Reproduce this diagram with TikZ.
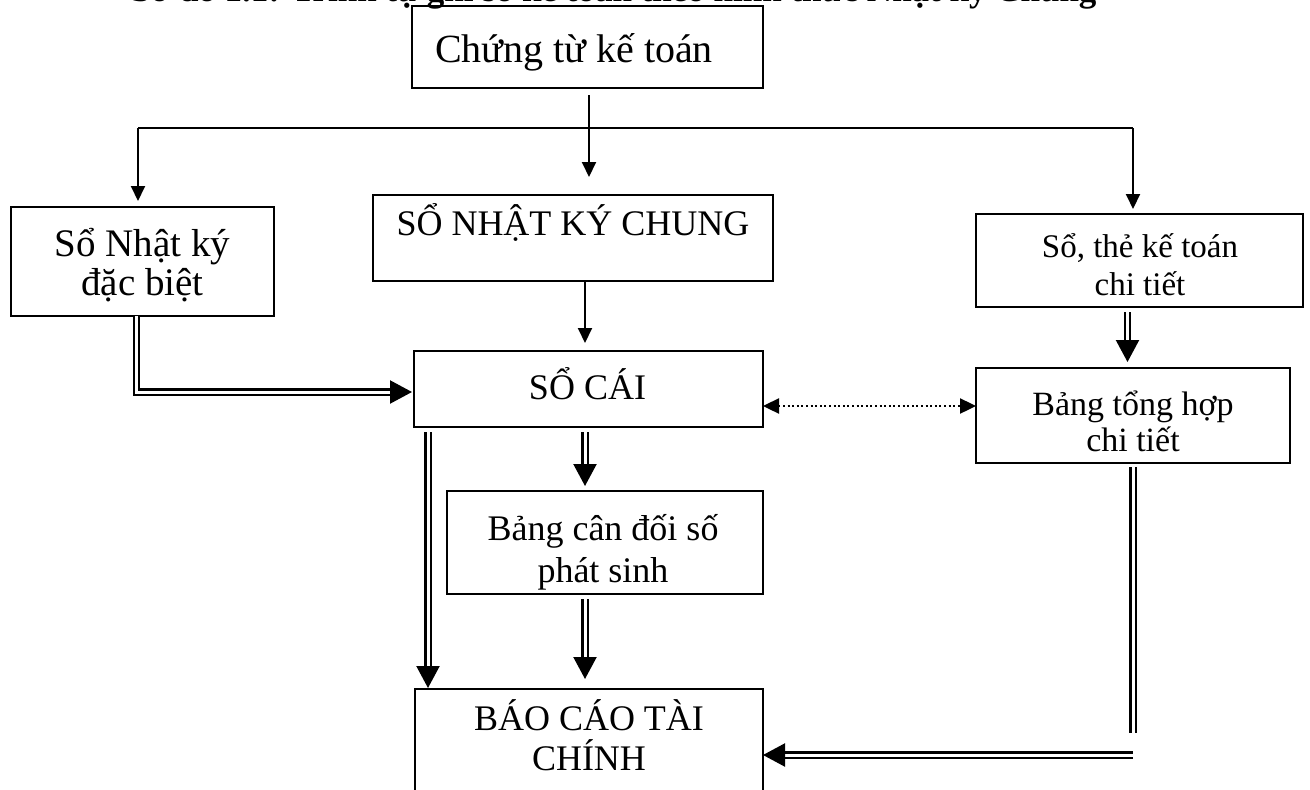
\documentclass[tikz,border=0pt]{standalone}
\usepackage{fontspec}
\setmainfont{Liberation Serif}
\usetikzlibrary{arrows.meta}
\begin{document}
\begin{tikzpicture}[x=1pt,y=-1pt,
  box/.style 2 args={draw, line width=2.2pt, inner sep=0pt, outer sep=0pt,
    minimum width=#1pt, minimum height=#2pt},
  lbl/.style={anchor=base, inner sep=0pt, align=center},
  big/.style={font=\fontsize{36}{40}\selectfont},
  arr/.style={line width=2pt, -{Triangle[length=15pt,width=14pt]}},
  plain/.style={line width=2pt},
  dbl/.style={double, line width=2.2pt, double distance=3pt},
  dblarr/.style={dbl, -{Triangle[length=22pt,width=23pt]}},
  dotarr/.style={line width=2.4pt, dash pattern=on 2pt off 2.6pt,
    {Triangle[length=16pt,width=15pt]}-{Triangle[length=16pt,width=15pt]}}]

\useasboundingbox (0,0) rectangle (1310,790);
\clip (0,0) rectangle (1310,790);
\fill[white] (0,0) rectangle (1310,790);

% heading, only its lower edge lies inside the page
\node[lbl, font=\bfseries\fontsize{35}{35}\selectfont] (title) at (614,1)
  {Sơ đồ 1.1: Trình tự ghi sổ kế toán theo hình thức Nhật ký Chung};

% boxes
\node[box={351}{82}]  (A) at (587.5,47)  {};
\node[box={400}{86}]  (B) at (573,238)   {};
\node[box={263}{109}] (C) at (142.5,261.5) {};
\node[box={327}{93}]  (D) at (1139.5,260.5) {};
\node[box={349}{76}]  (E) at (588.5,389) {};
\node[box={314}{95}]  (F) at (1133,415.5) {};
\node[box={316}{103}] (G) at (605,542.5) {};
\node[box={348}{130}] (H) at (589,754)   {};

% box texts (a two-line label sits on the baseline of its last line)
\node[lbl, font=\fontsize{40}{40}\selectfont] (At) at (574,62) {Chứng từ kế toán};
\node[lbl, big] (Bt) at (573,235) {SỔ NHẬT KÝ CHUNG};
\node[lbl, font=\fontsize{39}{39}\selectfont] (Ct) at (142.5,295) {Sổ Nhật ký\\đặc biệt};
\node[lbl, font=\fontsize{33}{38}\selectfont] (Dt) at (1140,295) {Sổ, thẻ kế toán\\chi tiết};
\node[lbl, big] (Et) at (587.5,399) {SỔ CÁI};
\node[lbl, font=\fontsize{34}{36}\selectfont] (Ft) at (1133,451) {Bảng tổng hợp\\chi tiết};
\node[lbl, font=\fontsize{36}{42}\selectfont] (Gt) at (603,582) {Bảng cân đối số\\phát sinh};
\node[lbl, font=\fontsize{36}{40}\selectfont] (Ht) at (589,770) {BÁO CÁO TÀI\\CHÍNH};

% distribution from the source documents
\coordinate (busL) at (138,128);
\coordinate (busR) at (1133,128);
\draw[plain] (busL) -- (busR);
\draw[arr, shorten <=7pt, shorten >=18pt] ([xshift=1.5pt]A.south) -- ([xshift=1.5pt]A.south |- B.north);
\draw[arr, shorten >=6pt] (busL) -- (busL |- C.north);
\draw[arr, shorten >=5pt] (busR) -- (busR |- D.north);

% journal to ledger
\draw[arr, shorten >=8pt] ([xshift=12pt]B.south) -- ([xshift=12pt]B.south |- E.north);
\draw[dblarr, shorten >=2pt] ([xshift=-6pt]C.south) |- ([yshift=-3pt]E.west);

% detail books
\draw[dblarr, shorten <=5pt, shorten >=6pt] ([xshift=-12pt]D.south) -- ([xshift=-12pt]D.south |- F.north);
\draw[dotarr] ([yshift=-17pt]E.east) -- ([yshift=-17pt]E.east -| F.west);

% ledger onwards
\draw[dblarr, shorten <=5pt, shorten >=5pt] ([xshift=-3.5pt]E.south) -- ([xshift=-3.5pt]E.south |- G.north);
\draw[dblarr, shorten <=5pt, shorten >=1pt] ([xshift=-160.5pt]E.south) -- ([xshift=-160.5pt]E.south |- H.north);
\draw[dblarr, shorten <=5pt, shorten >=10pt] ([xshift=-20pt]G.south) -- ([xshift=-20pt]G.south |- H.north);

% summary table to the reports
\coordinate (fEnd) at (1133,733);
\coordinate (hStart) at (1133,755);
\draw[dbl] (F.south) ++(0,4) -- (fEnd);
\draw[dblarr] (hStart) -- (hStart -| H.east);
\end{tikzpicture}
\end{document}
